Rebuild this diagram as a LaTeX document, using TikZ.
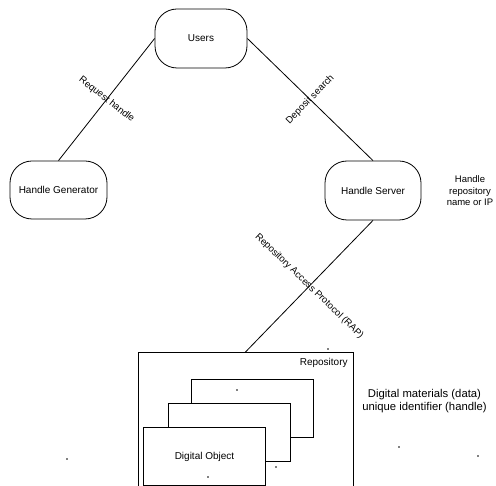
\documentclass[tikz,border=0pt]{standalone}
\usepackage{fontspec}
\setmainfont{Liberation Sans}
\begin{document}
\begin{tikzpicture}[x=1pt,y=-1pt,
  line width=0.8pt,
  every node/.style={font=\fontsize{10}{12}\selectfont},
  roundbox/.style={draw, rounded corners=22pt, fill=white, inner sep=0pt},
  objbox/.style={draw, fill=white, minimum width=122pt, minimum height=58pt, inner sep=0pt},
  edgelabel/.style={font=\fontsize{9.6}{11}\selectfont, inner sep=0pt},
  note/.style={align=center, inner sep=0pt},
  speck/.style={fill=black, draw=none}]
  \useasboundingbox (0,0) rectangle (496,486);
  \clip (0,0) rectangle (496,486);

  % main components
  \node[roundbox, minimum width=92pt, minimum height=59pt] (users) at (201,38.5) {Users};
  \node[roundbox, minimum width=97pt, minimum height=58pt] (gen) at (58.5,190) {Handle Generator};
  \node[roundbox, minimum width=96pt, minimum height=59pt] (server) at (373,190.5) {Handle Server};

  % repository (runs past the lower edge)
  \node[draw, minimum width=215pt, minimum height=160pt, inner sep=0pt, anchor=north] (repo) at (245.5,352) {};
  \node[anchor=north east, inner sep=0pt] (repolabel) at (348,358) {Repository};

  % stacked digital objects
  \node[objbox] (obj3) at (252.5,408) {};
  \node[objbox] (obj2) at (229,432.5) {};
  \node[objbox] (obj1) at (204.5,456.5) {Digital Object};

  % connectors with labels across them
  \draw (users.west) -- node[edgelabel, rotate=-38] (lreq) {Request handle} (gen.north);
  \draw (users.east) -- node[edgelabel, rotate=45.5] (ldep) {Deposit search} (server.north);
  \draw (server.south) -- node[edgelabel, rotate=-44] (lrap) {Repository Access Protocol (RAP)} (repo.north);

  % side notes
  \node[note, font=\fontsize{9.5}{11.5}\selectfont] (hnote) at (470,191) {Handle\\repository\\name or IP};
  \node[note, font=\fontsize{11.3}{12.5}\selectfont] (dnote) at (424.5,401) {Digital materials (data)\\unique identifier (handle)};

  % small marks
  \fill[speck] (237,390) circle (0.9);
  \fill[speck] (276,467) circle (0.9);
  \fill[speck] (208,477) circle (0.9);
  \fill[speck] (328,349) circle (0.9);
  \fill[speck] (399,447) circle (0.9);
  \fill[speck] (478,456) circle (0.9);
  \fill[speck] (67,459) circle (0.9);
\end{tikzpicture}
\end{document}
